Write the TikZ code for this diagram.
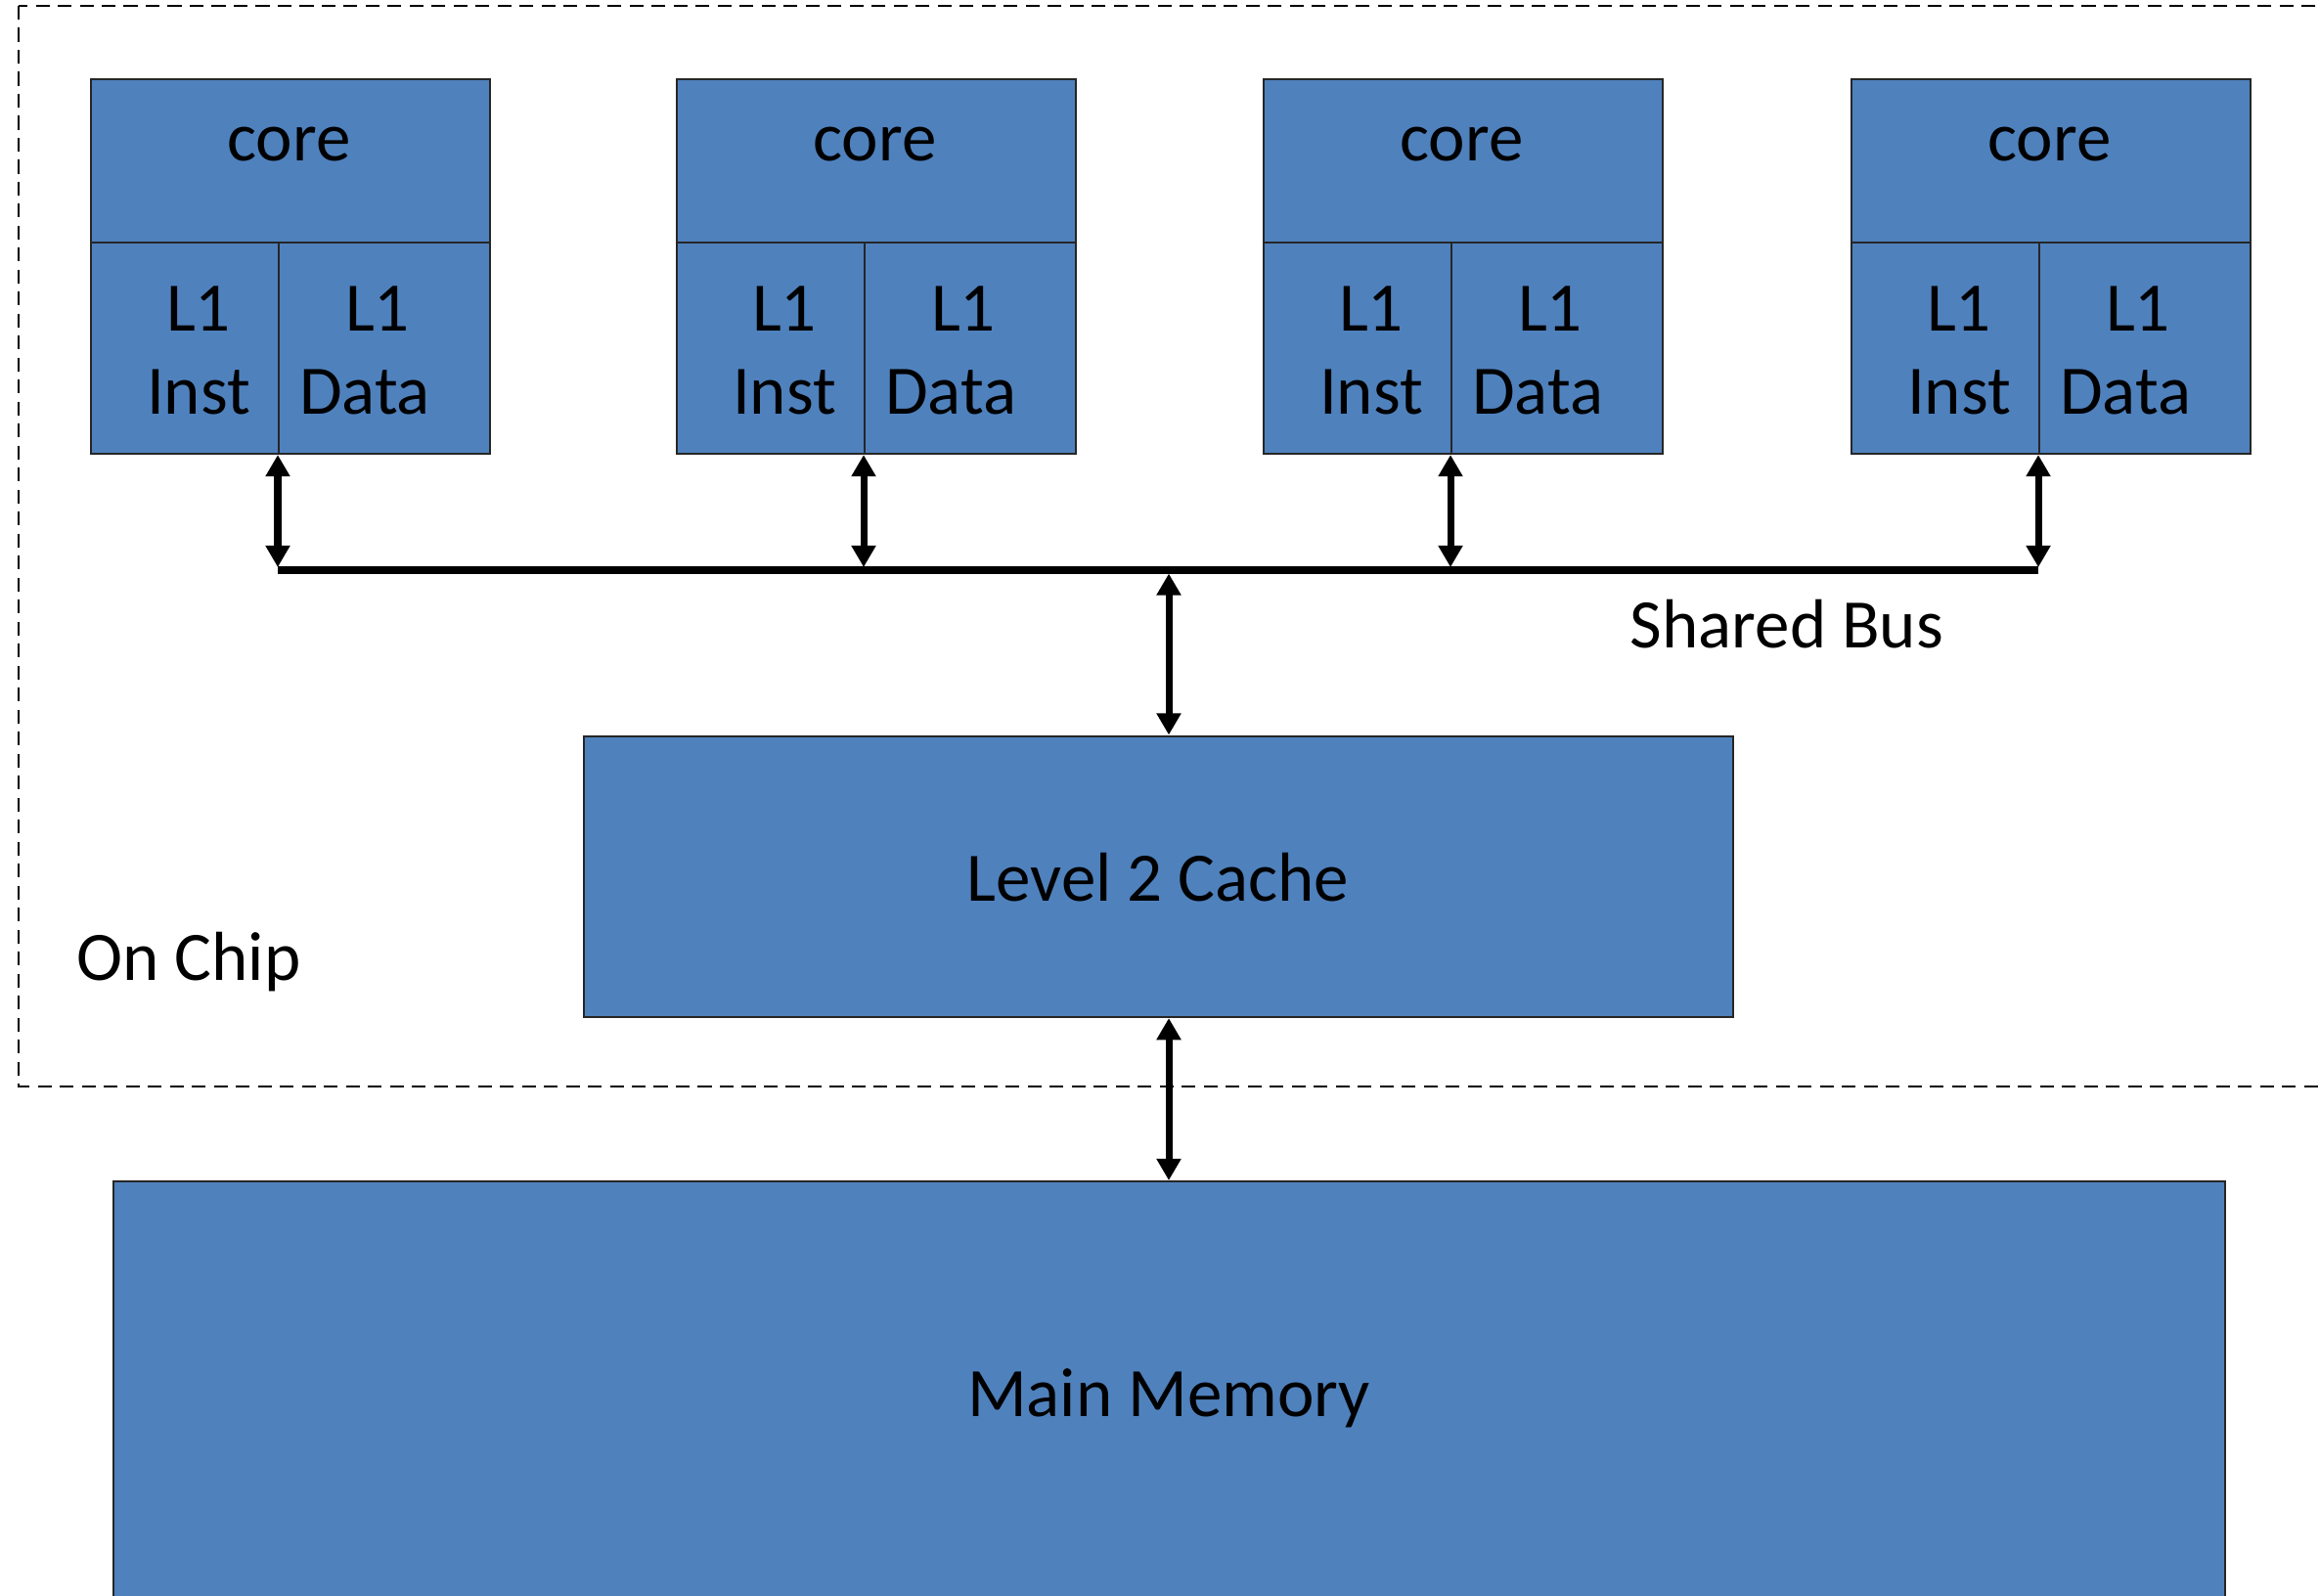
\documentclass[tikz,border=0pt]{standalone}
\usepackage{fontspec}
\setmainfont{Carlito}
\usetikzlibrary{arrows.meta,calc}
\definecolor{boxblue}{HTML}{4F81BD}
\begin{document}
\begin{tikzpicture}[
  blk/.style={draw=black!85, line width=0.6pt, fill=boxblue, inner sep=0pt, anchor=north west},
  txt/.style={font=\fontsize{20.2}{24.2}\selectfont, inner sep=0pt, text=black},
  arr/.style={line width=2pt, {Triangle[width=6.8pt,length=6.3pt]}-{Triangle[width=6.8pt,length=6.3pt]}},
  busline/.style={line width=2pt},
  chip/.style={draw=black, line width=0.65pt, dash pattern=on 4pt off 2.4pt}
]
\useasboundingbox (0,0) rectangle (23.71,-16.32);
\clip (0,0) rectangle (23.71,-16.32);
\fill[white] (0,0) rectangle (23.71,-16.32);

% on-chip dashed region
\draw[chip] (0.19,-0.06) rectangle (24.5,-11.11);

% shared bus coordinates
\coordinate (bc) at (11.95,-5.83);

% cores
\foreach \i/\x in {1/0.92, 2/6.91, 3/12.91, 4/18.92}{
  \node[blk, minimum width=4.08cm, minimum height=1.67cm] (core\i) at (\x,-0.80) {};
  \node[txt, anchor=base] (coret\i) at (\x+2.035,-1.65) {core};
  \node[blk, minimum width=1.92cm, minimum height=2.16cm] (inst\i) at (\x,-2.47) {};
  \node[blk, minimum width=2.16cm, minimum height=2.16cm] (data\i) at (\x+1.92,-2.47) {};
  \node[txt, anchor=base] (il\i) at (\x+1.11,-3.39) {L1};
  \node[txt, anchor=base] (ii\i) at (\x+1.11,-4.24) {Inst};
  \node[txt, anchor=base] (dl\i) at (\x+2.94,-3.39) {L1};
  \node[txt, anchor=base] (dd\i) at (\x+2.81,-4.24) {Data};
  \coordinate (b\i) at (\x+1.92,-5.83);
  \coordinate (bt\i) at (\x+1.92,-5.80);
  \draw[arr] (bt\i |- inst\i.south) -- (bt\i);
}

% shared bus
\draw[busline] (b1) -- (b4);
\node[txt] (sbus) at (18.27,-6.38) {Shared Bus};

% level 2 cache
\node[blk, minimum width=11.75cm, minimum height=2.875cm] (l2) at (5.96,-7.515) {};
\node[txt] (l2t) at (11.84,-8.97) {Level 2 Cache};
\coordinate (bb) at (11.95,-5.865);
\draw[arr] (bb) -- (bb |- l2.north);

% on chip label
\node[txt] (onchip) at (1.93,-9.84) {On Chip};

% main memory
\node[blk, minimum width=21.59cm, minimum height=5.0cm] (mm) at (1.15,-12.07) {};
\node[txt] (mmt) at (11.95,-14.30) {Main Memory};
\draw[arr] (bc |- l2.south) -- (bc |- mm.north);
\end{tikzpicture}
\end{document}
